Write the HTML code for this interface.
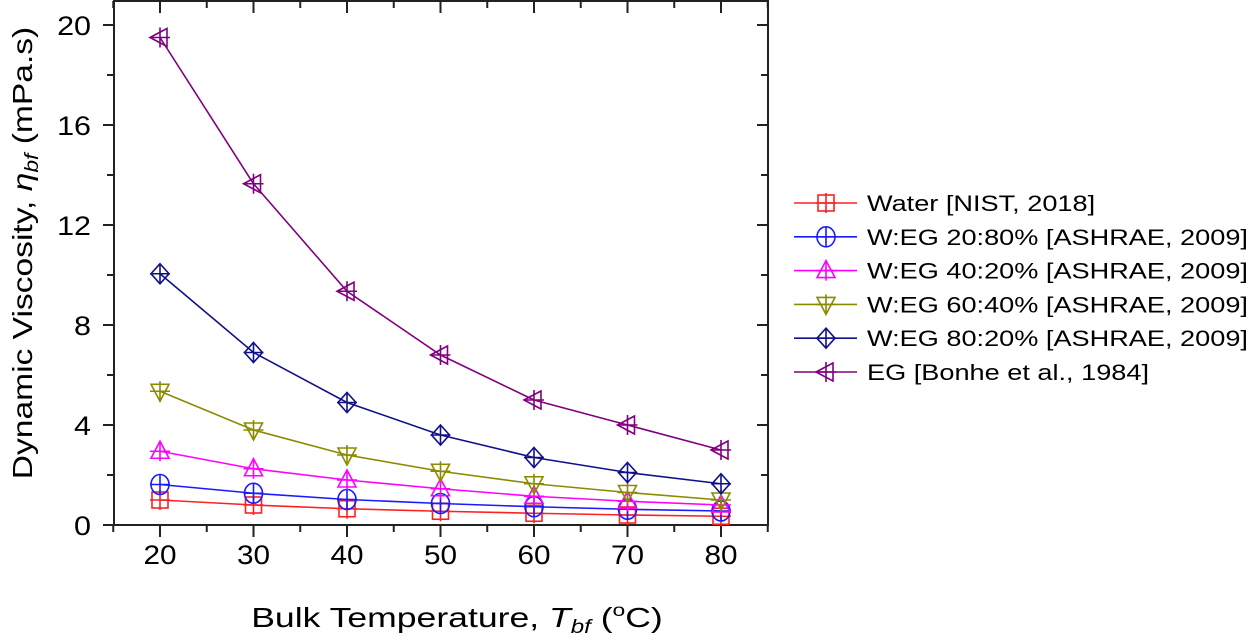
<!DOCTYPE html>
<html><head><meta charset="utf-8"><style>
body{margin:0;background:#fff}
svg{display:block;font-family:"Liberation Sans",Arial,sans-serif}
</style></head><body>
<svg id="chart" width="1250" height="644" viewBox="0 0 1250 644" xmlns="http://www.w3.org/2000/svg">
<g id="axes"></g><g id="series"></g><g id="legend"></g>
<g transform="translate(457,0) scale(1.27,1) translate(-457,0)">
<text x="457" y="627" font-size="28" text-anchor="middle">Bulk Temperature, <tspan font-style="italic">T</tspan><tspan font-style="italic" font-size="19" dy="6">bf</tspan><tspan dy="-6"> (</tspan><tspan font-size="18" dy="-11">o</tspan><tspan dy="11">C)</tspan></text>
</g>
<g transform="translate(32,253) rotate(-90) scale(1.2,1)">
<text x="0" y="0" font-size="28" text-anchor="middle">Dynamic Viscosity, <tspan font-style="italic">η</tspan><tspan font-style="italic" font-size="19" dy="6">bf</tspan><tspan dy="-6"> (mPa.s)</tspan></text>
</g>
</svg>
<script>
const temps=[20,30,40,50,60,70,80];
const water=[1.0,0.8,0.65,0.55,0.47,0.40,0.35];
const eg20=[1.62,1.27,1.02,0.86,0.73,0.63,0.56];
const eg40=[2.95,2.25,1.8,1.45,1.15,0.95,0.8];
const eg60=[5.35,3.8,2.8,2.15,1.65,1.3,1.0];
const eg80=[10.05,6.9,4.9,3.6,2.7,2.1,1.65];
const egPure=[19.5,13.65,9.35,6.8,5.0,4.0,3.0];
const yTicks=[0,4,8,12,16,20];
const xTicks=[20,30,40,50,60,70,80];
const names=["Water [NIST, 2018]","W:EG 20:80% [ASHRAE, 2009]","W:EG 40:20% [ASHRAE, 2009]","W:EG 60:40% [ASHRAE, 2009]","W:EG 80:20% [ASHRAE, 2009]","EG [Bonhe et al., 1984]"];
const NS="http://www.w3.org/2000/svg";
const X=v=>160+(v-20)*9.35, Y=v=>525-v*25;
const L=114,R=768,T=1,B=525;
function mk(tag,at,parent){const e=document.createElementNS(NS,tag);for(const k in at)e.setAttribute(k,at[k]);parent.appendChild(e);return e;}
const ax=document.getElementById('axes');
const frame=mk('rect',{x:L,y:T,width:R-L,height:B-T,fill:'none',stroke:'#222','stroke-width':2},ax);


for(let v=0;v<=20;v+=2){const y=Y(v),len=v%4===0?11:7;
 mk('line',{x1:L-len,y1:y,x2:L,y2:y,stroke:'#222','stroke-width':2},ax);
 mk('line',{x1:R-len,y1:y,x2:R,y2:y,stroke:'#222','stroke-width':2},ax);}
yTicks.forEach(v=>{const g=mk('g',{transform:`translate(91,0) scale(1.13,1) translate(-91,0)`},ax);
 const t=mk('text',{x:91,y:Y(v)+10,'font-size':27,'text-anchor':'end'},g);t.textContent=v;
 
 });
for(let v=15;v<=85;v+=5){const x=X(v),len=v%10===0?12:7;
 mk('line',{x1:x,y1:B,x2:x,y2:B+len,stroke:'#222','stroke-width':2},ax);
 mk('line',{x1:x,y1:T,x2:x,y2:T+len,stroke:'#222','stroke-width':2},ax);}
xTicks.forEach(v=>{const x=X(v);const g=mk('g',{transform:`translate(${x},0) scale(1.1,1) translate(${-x},0)`},ax);
 const t=mk('text',{x:x,y:564,'font-size':27,'text-anchor':'middle'},g);t.textContent=v;
 
 });
const series=[water,eg20,eg40,eg60,eg80,egPure];
const colors=['#ff2020','#1a1aff','#ff00ff','#8b8b00','#10108a','#800080'];
const shapes=['square','circle','up','down','diamond','left'];
function marker(g,s,x,y,c){const st={fill:'none',stroke:c,'stroke-width':1.6};const r=9;
 if(s==='square'){mk('rect',Object.assign({x:x-8,y:y-8,width:16,height:16},st),g);}
 else if(s==='circle'){mk('ellipse',Object.assign({cx:x,cy:y,rx:9,ry:10},st),g);}
 else if(s==='up'){mk('polygon',Object.assign({points:`${x},${y-r-1} ${x-r},${y+r-2} ${x+r},${y+r-2}`},st),g);}
 else if(s==='down'){mk('polygon',Object.assign({points:`${x},${y+r+1} ${x-r},${y-r+2} ${x+r},${y-r+2}`},st),g);}
 else if(s==='diamond'){mk('polygon',Object.assign({points:`${x},${y-r-1} ${x+r},${y} ${x},${y+r+1} ${x-r},${y}`},st),g);}
 else {mk('polygon',Object.assign({points:`${x-r-1},${y} ${x+r-2},${y-r} ${x+r-2},${y+r}`},st),g);}
 mk('line',{x1:x-r-1,y1:y,x2:x+r+1,y2:y,stroke:c,'stroke-width':1.6},g);
 mk('line',{x1:x,y1:y-r-1,x2:x,y2:y+r+1,stroke:c,'stroke-width':1.6},g);}
const sg=document.getElementById('series');
series.forEach((d,i)=>{const g=mk('g',{},sg);
 
 
 const pl=mk('polyline',{points:d.map((v,j)=>X(temps[j])+','+Y(v)).join(' '),fill:'none',stroke:colors[i],'stroke-width':1.6},g);
 
 
 d.forEach((v,j)=>marker(g,shapes[i],X(temps[j]),Y(v),colors[i]));});
const lg=document.getElementById('legend');
names.forEach((n,i)=>{const y=203+i*33.8;const g=mk('g',{},lg);
 
 
 mk('line',{x1:794,y1:y,x2:857,y2:y,stroke:colors[i],'stroke-width':1.6},g);
 marker(g,shapes[i],826,y,colors[i]);
 const tg=mk('g',{transform:'translate(867,0) scale(1.234,1) translate(-867,0)'},g);
 const t=mk('text',{x:867,y:y+8,'font-size':22},tg);t.textContent=n;});
</script>
</body></html>
